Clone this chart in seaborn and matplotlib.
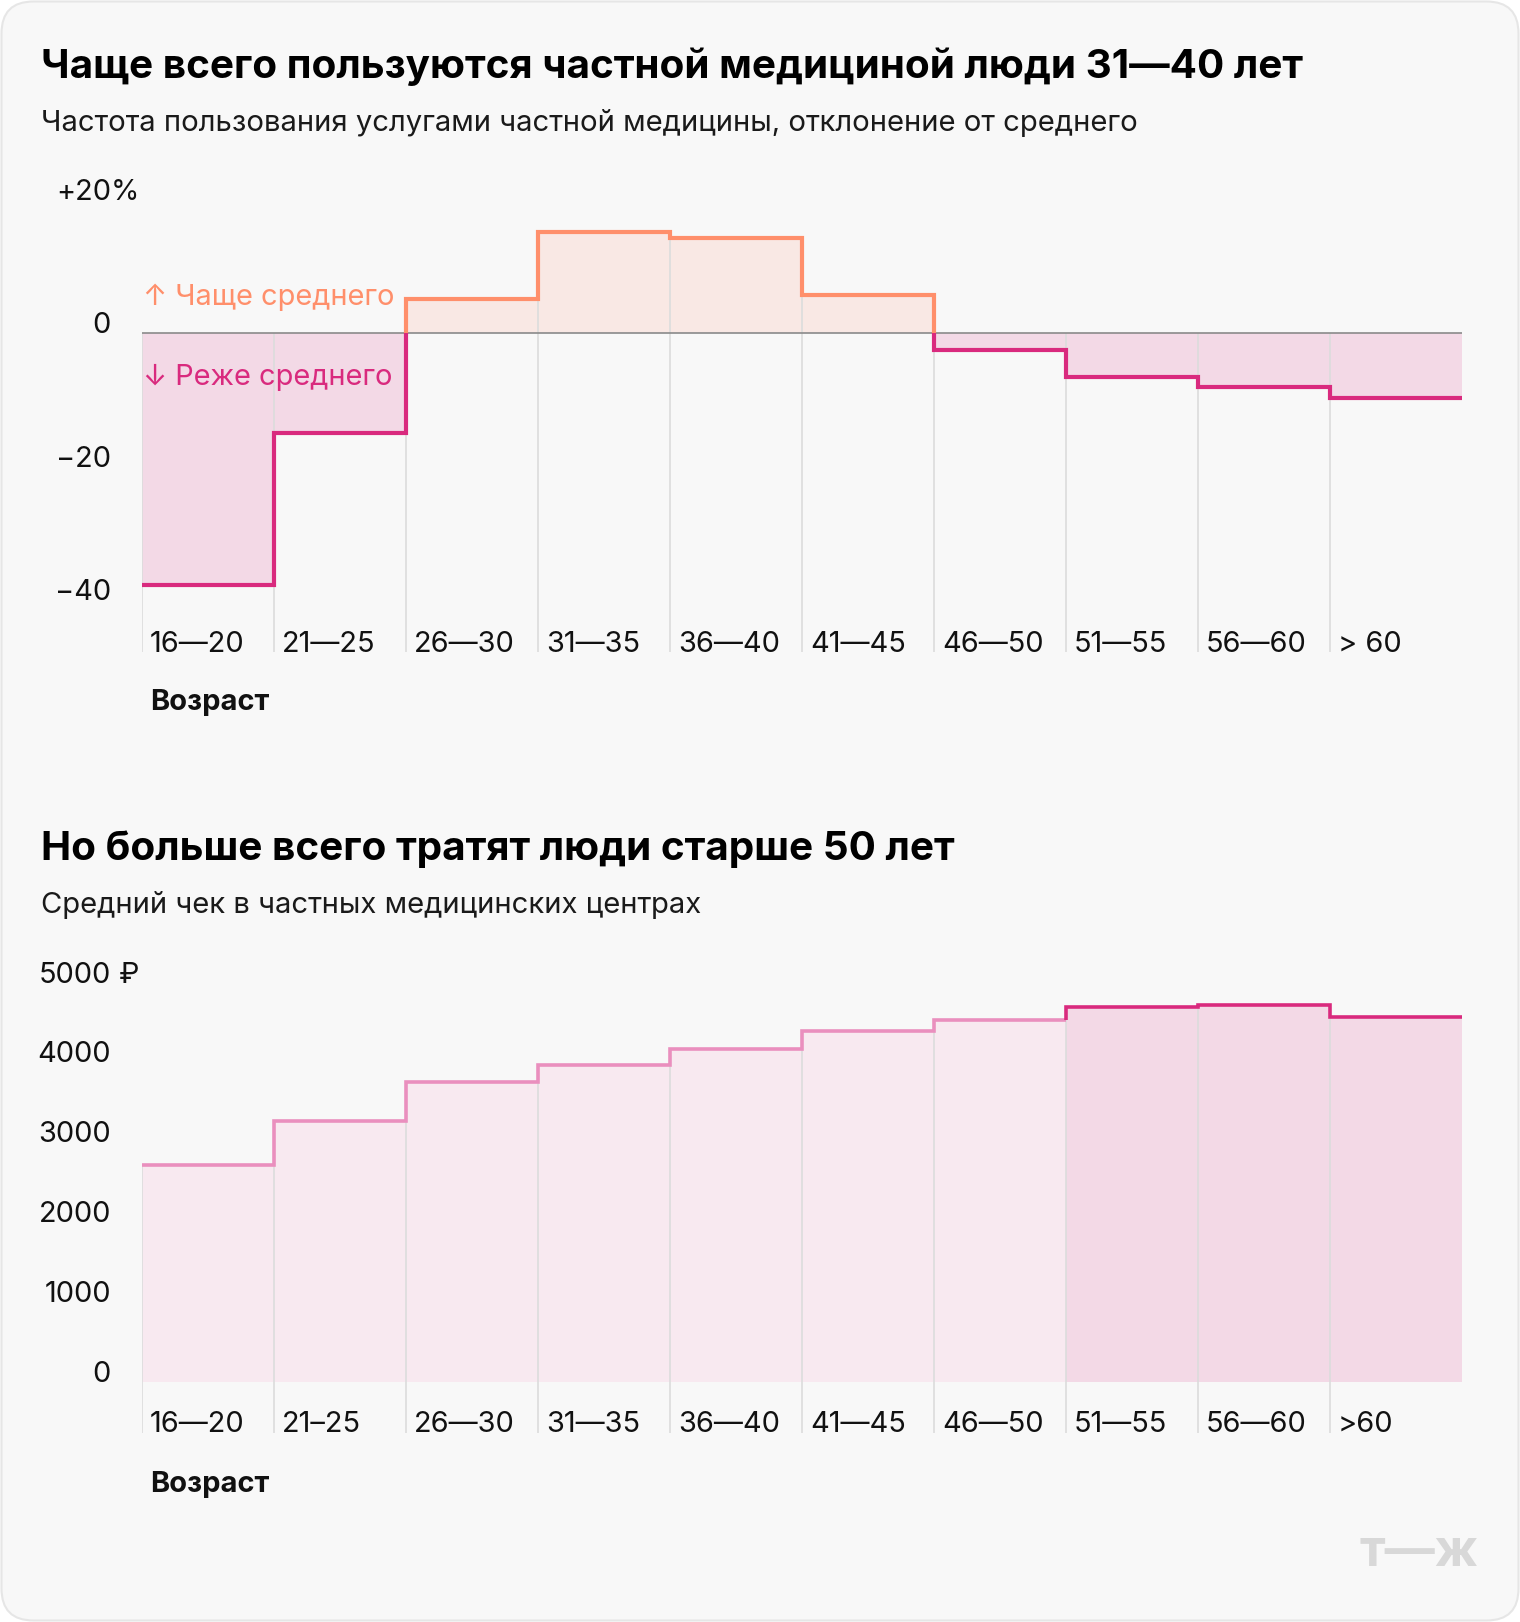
import numpy as np
import matplotlib
matplotlib.use('Agg')
import matplotlib.pyplot as plt
import seaborn as sns
from matplotlib.patches import FancyBboxPatch, Rectangle
from matplotlib.transforms import IdentityTransform

# ---------------- data ----------------
age_top = ["16—20", "21—25", "26—30", "31—35", "36—40", "41—45", "46—50", "51—55", "56—60", "> 60"]
freq_dev = [-37.7, -15.0, 5.1, 15.2, 14.3, 5.7, -2.5, -6.5, -8.0, -9.7]
top_yticks = [20, 0, -20, -40]
top_yticklabels = ["+20", "0", "−20", "−40"]

age_bottom = ["16—20", "21–25", "26—30", "31—35", "36—40", "41—45", "46—50", "51—55", "56—60", ">60"]
avg_check = [2710, 3270, 3760, 3970, 4170, 4400, 4530, 4690, 4720, 4570]
n_plain = 7  # first 7 groups drawn light, last 3 highlighted
bottom_yticks = [5000, 4000, 3000, 2000, 1000, 0]
bottom_yticklabels = ["5000", "4000", "3000", "2000", "1000", "0"]

title1 = "Чаще всего пользуются частной медициной люди 31—40 лет"
sub1 = "Частота пользования услугами частной медицины, отклонение от среднего"
title2 = "Но больше всего тратят люди старше 50 лет"
sub2 = "Средний чек в частных медицинских центрах"
xlabel = "Возраст"
up_note = "↑ Чаще среднего"
down_note = "↓ Реже среднего"

# ---------------- style ----------------
W, H, DPI = 1520, 1622, 100
sns.set_theme(style='white')
plt.rcParams['font.family'] = ['Inter', 'DejaVu Sans']

salmon = '#FF8F6B'
pos_fill = '#F9E8E4'
magenta = '#D92A7E'
neg_fill = '#F3D9E6'
light_line = '#EA8FBE'
light_fill = '#F8E9F0'
grid_c = '#DCDCDC'
bg = '#F8F8F8'

fig = plt.figure(figsize=(W / DPI, H / DPI), dpi=DPI)
fig.patch.set_facecolor('white')
card = FancyBboxPatch((1.5, 1.5), W - 3, H - 3, boxstyle='round,pad=0,rounding_size=32',
                      transform=IdentityTransform(), facecolor=bg, edgecolor='#E6E6E6', lw=1.5,
                      zorder=-10)
fig.add_artist(card)

renderer = fig.canvas.get_renderer()


def fit(t, target_w):
    w = t.get_window_extent(renderer).width
    t.set_fontsize(t.get_fontsize() * target_w / w)
    return t


def ftext(x, y, s, **kw):
    return fig.text(x / W, 1 - y / H, s, **kw)


def px_axes(x0, x1, ytop, ybot):
    ax = fig.add_axes([x0 / W, 1 - ybot / H, (x1 - x0) / W, (ybot - ytop) / H])
    ax.set_facecolor('none')
    ax.set_axis_off()
    ax.set_zorder(1)
    return ax


# tick font size from a reference label width
probe = ftext(0, 0, "2000", fontsize=20)
fit(probe, 72.5)
tick_fs = probe.get_fontsize()
probe.remove()

# ---------------- titles ----------------
fit(ftext(41, 67, title1, fontsize=28, fontweight='bold', color='#000', va='center'), 1261)
fit(ftext(41, 123, sub1, fontsize=20, color='#1a1a1a', va='center'), 1097)
fit(ftext(41, 849, title2, fontsize=28, fontweight='bold', color='#000', va='center'), 913)
fit(ftext(41, 905, sub2, fontsize=20, color='#1a1a1a', va='center'), 660)

# ---------------- top chart ----------------
X0, X1 = 142, 1462
top_ytop, top_ybot, top_zero, top_scale = 150, 652, 333.3, 6.675
ax1 = px_axes(X0, X1, top_ytop, top_ybot)
n = len(freq_dev)
ax1.set_xlim(0, n)
ax1.set_ylim((top_zero - top_ybot) / top_scale, (top_zero - top_ytop) / top_scale)

xe = np.arange(n + 1)
ye = np.append(freq_dev, freq_dev[-1])
ax1.fill_between(xe, np.maximum(ye, 0), 0, step='post', color=pos_fill, lw=0, zorder=1)
ax1.fill_between(xe, np.minimum(ye, 0), 0, step='post', color=neg_fill, lw=0, zorder=1)

fv = np.array(freq_dev)
tops = [max(0, fv[0])] + [max(0, min(fv[i - 1], fv[i])) for i in range(1, n)]
ax1.vlines(np.arange(n), ax1.get_ylim()[0], tops, color=grid_c, lw=1.2, zorder=2)
ax1.axhline(0, color='#8A8A8A', lw=1.2, zorder=3)

for col, rect in [(salmon, Rectangle((-1, 0), n + 2, 500)), (magenta, Rectangle((-1, -500), n + 2, 500))]:
    before = len(ax1.lines)
    sns.lineplot(x=xe, y=ye, drawstyle='steps-post', color=col, lw=3.0, ax=ax1,
                 estimator=None, sort=False, legend=False, zorder=4)
    for ln in ax1.lines[before:]:
        rect.set_transform(ax1.transData)
        ln.set_clip_path(rect)
        ln.set_solid_capstyle('butt')
        ln.set_solid_joinstyle('miter')

for v, s in zip(top_yticks, top_yticklabels):
    ax1.annotate(s, xy=(0, v), xycoords=('axes fraction', 'data'), xytext=(-31, 0),
                 textcoords='offset pixels', ha='right', va='baseline', fontsize=tick_fs,
                 color='#111', annotation_clip=False)
ax1.annotate('%', xy=(0, top_yticks[0]), xycoords=('axes fraction', 'data'), xytext=(-31, 0),
             textcoords='offset pixels', ha='left', va='baseline', fontsize=tick_fs,
             color='#111', annotation_clip=False)
for i, s in enumerate(age_top):
    ax1.annotate(s, xy=(i, 0), xycoords=('data', 'axes fraction'), xytext=(8, 7),
                 textcoords='offset pixels', ha='left', va='center', fontsize=tick_fs,
                 color='#111', annotation_clip=False)

ftext(143, 297, up_note, fontsize=tick_fs, color=salmon, va='center')
ftext(143, 377, down_note, fontsize=tick_fs, color=magenta, va='center')
fit(ftext(150, 703, xlabel, fontsize=tick_fs, fontweight='bold', color='#111', va='center'), 119)

# ---------------- bottom chart ----------------
b_ytop, b_ybot, b_zero, b_scale = 930, 1433, 1381.7, 0.0798
ax2 = px_axes(X0, X1, b_ytop, b_ybot)
m = len(avg_check)
ax2.set_xlim(0, m)
ax2.set_ylim((b_zero - b_ybot) / b_scale, (b_zero - b_ytop) / b_scale)

av = np.array(avg_check, dtype=float)
xe2 = np.arange(m + 1)
ye2 = np.append(av, av[-1])
ax2.fill_between(xe2[:n_plain + 1], ye2[:n_plain + 1], 0, step='post', color=light_fill, lw=0, zorder=1)
ax2.fill_between(xe2[n_plain:], ye2[n_plain:], 0, step='post', color=neg_fill, lw=0, zorder=1)

tops2 = [av[0]] + [min(av[i - 1], av[i]) for i in range(1, m)]
ax2.vlines(np.arange(m), ax2.get_ylim()[0], tops2, color=grid_c, lw=1.2, zorder=2)

# light segment
xa = np.arange(n_plain + 1)
ya = np.append(av[:n_plain], av[n_plain - 1])
before = len(ax2.lines)
sns.lineplot(x=xa, y=ya, drawstyle='steps-post', color=light_line, lw=2.6, ax=ax2,
             estimator=None, sort=False, legend=False, zorder=4)
# highlighted segment (starts with the riser)
xb = np.concatenate([[n_plain], np.arange(n_plain, m + 1)])
yb = np.concatenate([[av[n_plain - 1]], av[n_plain:], [av[-1]]])
sns.lineplot(x=xb, y=yb, drawstyle='steps-post', color=magenta, lw=2.6, ax=ax2,
             estimator=None, sort=False, legend=False, zorder=5)
for ln in ax2.lines[before:]:
    ln.set_solid_capstyle('butt')
    ln.set_solid_joinstyle('miter')

for v, s in zip(bottom_yticks, bottom_yticklabels):
    ax2.annotate(s, xy=(0, v), xycoords=('axes fraction', 'data'), xytext=(-31, 0),
                 textcoords='offset pixels', ha='right', va='baseline', fontsize=tick_fs,
                 color='#111', annotation_clip=False)
ax2.annotate(' ₽', xy=(0, bottom_yticks[0]), xycoords=('axes fraction', 'data'), xytext=(-31, 0),
             textcoords='offset pixels', ha='left', va='baseline', fontsize=tick_fs,
             color='#111', annotation_clip=False)
for i, s in enumerate(age_bottom):
    ax2.annotate(s, xy=(i, 0), xycoords=('data', 'axes fraction'), xytext=(8, 9),
                 textcoords='offset pixels', ha='left', va='center', fontsize=tick_fs,
                 color='#111', annotation_clip=False)
fit(ftext(150, 1485, xlabel, fontsize=tick_fs, fontweight='bold', color='#111', va='center'), 119)

# logo
fit(ftext(1360, 1552, "т—ж", fontsize=30, fontweight='bold', color='#D8D8D8', va='center'), 119)

fig.savefig('out.png', dpi=DPI, facecolor=fig.get_facecolor())
